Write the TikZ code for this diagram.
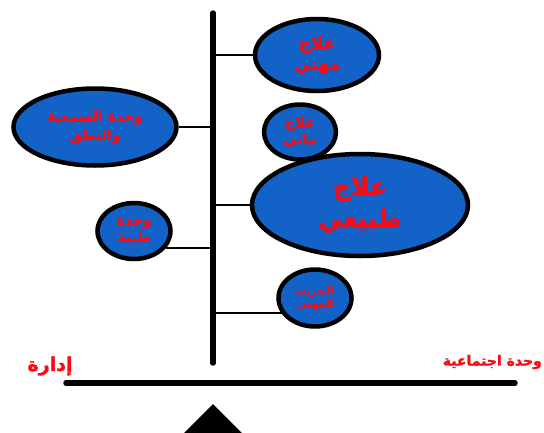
\documentclass[tikz,border=0pt]{standalone}
\usepackage{fontspec}
\TeXXeTstate=1
\newfontfamily\arabicfont[Script=Arabic,BoldFont={DejaVu Sans Bold},BoldFeatures={FakeBold=1.5}]{DejaVu Sans}
\usetikzlibrary{shapes.geometric}
\definecolor{unitblue}{RGB}{18,98,200}
\definecolor{labelred}{RGB}{250,10,20}
\tikzset{
  wire/.style={line width=1.6pt},
  trunk/.style={line width=5.5pt, line cap=round},
  unit/.style={ellipse, draw=black, line width=4.5pt, fill=unitblue, inner sep=0pt,
    text=labelred, align=center, font=\arabicfont\bfseries},
  tag/.style={text=labelred, font=\arabicfont\bfseries, inner sep=0pt}
}
\begin{document}
\begin{tikzpicture}[x=1pt,y=-1pt]
  \clip (0,0) rectangle (544,432);
  % trunk and base
  \coordinate (trunktop) at (213,13);
  \coordinate (trunkbot) at (213,363);
  \coordinate (baseL) at (66,383);
  \coordinate (baseR) at (515,383);
  \draw[trunk] (trunktop) -- (trunkbot);
  \draw[trunk] (baseL) -- (baseR);
  \fill (213,404) -- (246,437) -- (180,437) -- cycle;
  % units
  \node[unit, minimum width=124pt, minimum height=72pt, font=\arabicfont\bfseries\fontsize{17}{21}\selectfont] (occup) at (317,55)
    {\beginR علاج\endR\\\beginR مهني\endR};
  \node[unit, minimum width=72pt, minimum height=55pt, font=\arabicfont\bfseries\fontsize{14}{17}\selectfont] (hydro) at (300,132)
    {\beginR علاج\endR\\\beginR مائي\endR};
  \node[unit, minimum width=216pt, minimum height=102pt, font=\arabicfont\bfseries\fontsize{25}{32}\selectfont] (physio) at (360,205)
    {\beginR علاج\endR\\\beginR طبيعي\endR};
  \node[unit, minimum width=73pt, minimum height=57pt, font=\arabicfont\bfseries\fontsize{10.5}{13}\selectfont] (train) at (315,298)
    {\beginR التدريب\endR\\\beginR المهني\endR};
  \node[unit, minimum width=163pt, minimum height=77pt, font=\arabicfont\bfseries\fontsize{14}{19}\selectfont] (speech) at (95,127)
    {\beginR وحدة السمعية\endR\\\beginR والنطق\endR};
  \node[unit, minimum width=73pt, minimum height=56pt, font=\arabicfont\bfseries\fontsize{14}{17}\selectfont] (medic) at (134,231)
    {\beginR وحدة\endR\\\beginR طبية\endR};
  % connectors
  \draw[wire] (occup.west) -- (occup.west -| trunktop);
  \draw[wire] (physio.west) -- (physio.west -| trunktop);
  \draw[wire] (speech.east) -- (speech.east -| trunktop);
  \coordinate (trainend) at (283,313);
  \draw[wire] (trainend) -- (trainend -| trunktop);
  \coordinate (medicend) at (166,248);
  \draw[wire] (medicend) -- (medicend -| trunktop);
  % labels at the ends of the base
  \node[tag, font=\arabicfont\bfseries\fontsize{19}{22}\selectfont] (admin) at (50,366) {\beginR إدارة\endR};
  \node[tag, anchor=east, font=\arabicfont\bfseries\fontsize{14}{17}\selectfont] (social) at (542,362) {\beginR وحدة اجتماعية\endR};
\end{tikzpicture}
\end{document}
